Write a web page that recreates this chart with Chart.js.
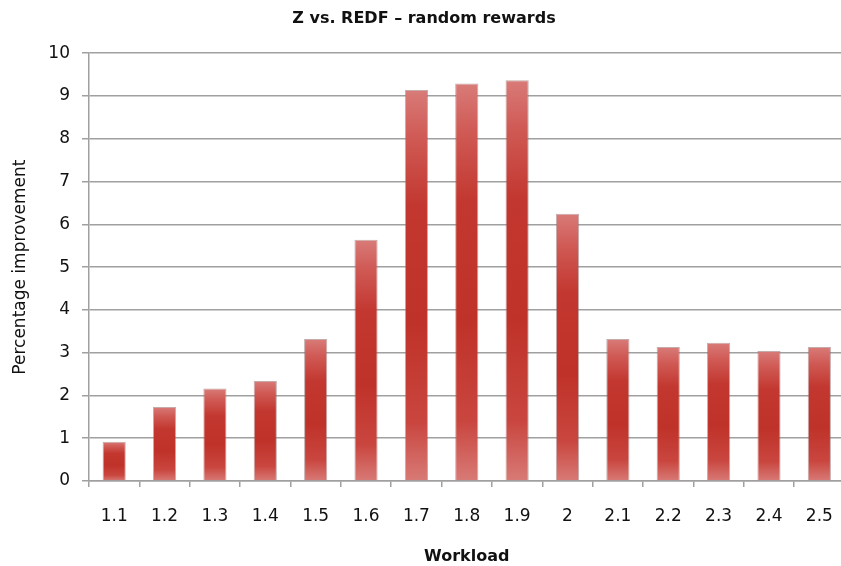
<!DOCTYPE html>
<html>
<head>
<meta charset="utf-8">
<script src="https://cdn.jsdelivr.net/npm/chart.js@4/dist/chart.umd.min.js"></script>
<style>
  html, body { margin: 0; padding: 0; background: #ffffff; overflow: hidden; }
  #wrap { width: 841px; height: 566px; overflow: hidden; position: relative; }
  canvas { display: block; }
</style>
</head>
<body>
<div id="wrap"><canvas id="c" width="852" height="566"></canvas></div>
<script>
const chartTitle = "Z vs. REDF \u2013 random rewards";
const xAxisTitle = "Workload";
const yAxisTitle = "Percentage improvement";
const categories = ["1.1", "1.2", "1.3", "1.4", "1.5", "1.6", "1.7", "1.8", "1.9", "2", "2.1", "2.2", "2.3", "2.4", "2.5"];
const improvement = [0.92, 1.73, 2.16, 2.34, 3.32, 5.64, 9.14, 9.29, 9.37, 6.25, 3.32, 3.13, 3.23, 3.04, 3.13];
const yTicks = [0, 1, 2, 3, 4, 5, 6, 7, 8, 9, 10];

const FONT = "'DejaVu Sans', 'Liberation Sans', Arial, sans-serif";

function barGradient(ctx) {
  const chart = ctx.chart;
  const y = chart.scales && chart.scales.y;
  if (!y || ctx.type !== 'data') return '#c0342b';
  const top = y.getPixelForValue(ctx.raw);
  const bottom = y.getPixelForValue(0);
  if (!isFinite(top) || !isFinite(bottom) || bottom - top < 1) return '#c0342b';
  const g = chart.ctx.createLinearGradient(0, top, 0, bottom);
  g.addColorStop(0, '#d87b78');
  g.addColorStop(0.12, '#d05a55');
  g.addColorStop(0.3, '#c2372f');
  g.addColorStop(0.6, '#bf3229');
  g.addColorStop(0.85, '#c9463f');
  g.addColorStop(1, '#d87a76');
  return g;
}

new Chart(document.getElementById('c'), {
  type: 'bar',
  data: {
    labels: categories,
    datasets: [{
      label: yAxisTitle,
      data: improvement,
      backgroundColor: barGradient,
      borderColor: 'rgba(150,100,100,0.55)',
      borderWidth: 1,
      barPercentage: 0.46,
      categoryPercentage: 1.0
    }]
  },
  options: {
    responsive: false,
    animation: false,
    events: [],
    layout: { padding: { left: 0, right: 4, top: 0, bottom: 0 } },
    plugins: {
      legend: { display: false },
      tooltip: { enabled: false },
      title: {
        display: true,
        text: chartTitle,
        color: '#111111',
        font: { family: FONT, size: 16, weight: 'bold' },
        padding: { top: 9, bottom: 25 }
      }
    },
    scales: {
      x: {
        offset: true,
        grid: {
          display: true,
          drawOnChartArea: false,
          drawTicks: true,
          tickLength: 6,
          color: '#a0a0a0',
          lineWidth: 1.5,
          offset: true
        },
        border: { display: true, color: '#a0a0a0', width: 1.5 },
        ticks: {
          color: '#111111',
          font: { family: FONT, size: 17 },
          padding: 19,
          maxRotation: 0,
          autoSkip: false
        },
        title: {
          display: true,
          text: xAxisTitle,
          color: '#111111',
          font: { family: FONT, size: 16, weight: 'bold' },
          padding: { top: 0, bottom: 0 }
        },
        afterFit: function (scale) { scale.height = 85; }
      },
      y: {
        min: 0,
        max: 10,
        afterBuildTicks: function (scale) { scale.ticks = yTicks.map(v => ({ value: v })); },
        grid: {
          color: '#a0a0a0',
          lineWidth: 1.5,
          drawTicks: true,
          tickLength: 7
        },
        border: { display: true, color: '#a0a0a0', width: 1.5 },
        ticks: {
          color: '#111111',
          font: { family: FONT, size: 17 },
          padding: 12
        },
        title: {
          display: true,
          text: yAxisTitle,
          color: '#111111',
          font: { family: FONT, size: 17 },
          padding: { top: 10, bottom: 0 }
        },
        afterFit: function (scale) { scale.width = 89; }
      }
    }
  }
});
</script>
</body>
</html>
